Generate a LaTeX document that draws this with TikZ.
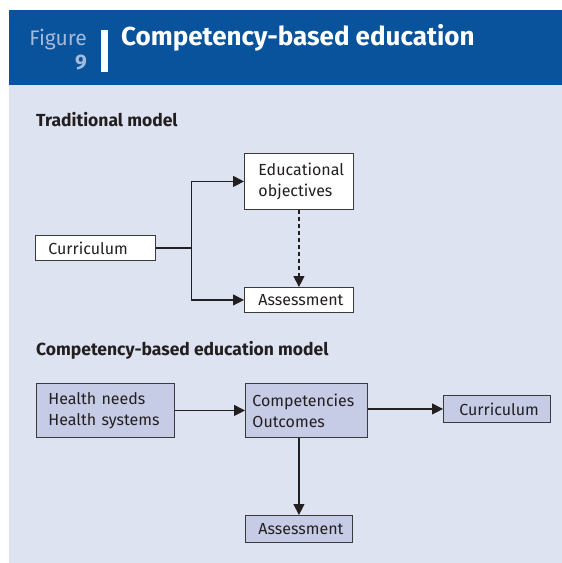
\documentclass[tikz,border=0pt]{standalone}
\usepackage{fontspec}
\setmainfont{Fira Sans}
\usepackage{xcolor}
\usepackage{tikz}
\usetikzlibrary{arrows.meta}
\definecolor{headblue}{HTML}{08539C}
\definecolor{figgray}{HTML}{A6BAD9}
\definecolor{panelbg}{HTML}{DDE3F1}
\definecolor{boxfill}{HTML}{C6CCE6}
\definecolor{inkdark}{HTML}{231F20}
\definecolor{boxline}{HTML}{3A3A3A}
\tikzset{
  every node/.append style={text=inkdark},
  box/.style={draw=boxline,line width=.9pt,anchor=north west,align=left,
    inner xsep=5pt,inner ysep=0pt,font=\fontsize{16}{21}\selectfont},
  indent/.style={execute at begin node={\leftskip=#1pt}},
  cbbox/.style={box,fill=boxfill},
  trbox/.style={box,fill=white},
  link/.style={inkdark,line width=1.1pt},
  head/.style={anchor=base west,inner sep=0pt,font=\fontsize{17.5}{21}\selectfont\bfseries},
}

\begin{document}
\begin{tikzpicture}[>={Triangle[length=11pt,width=11pt]},x=1pt,y=-1pt]
  \useasboundingbox (0,0) rectangle (562,563);
  \fill[panelbg] (9,10) rectangle (562,563);
  \fill[headblue] (9,10) rectangle (562,85);
  \fill[white] (101,30) rectangle (108,72);
  \node[anchor=base east,inner sep=0pt,text=figgray,
    font=\fontsize{21}{24}\selectfont] (figword) at (87,45) {Figure};
  \node[anchor=base east,inner sep=0pt,text=figgray,
    font=\fontsize{21}{24}\selectfont\bfseries] (fignum) at (87,69) {9};
  \node[anchor=base west,inner sep=0pt,text=white,
    font=\fontsize{26}{30}\selectfont\bfseries] (title) at (121,45)
    {Competency-based education};

  % traditional model
  \node[head] (trhead) at (36,126) {Traditional model};
  \node[trbox,text width=110pt,minimum height=25pt,indent=8] (trcur) at (35,235) {Curriculum};
  \node[trbox,text width=99pt,minimum height=56pt,indent=9] (trobj) at (244,153)
    {Educational\\objectives};
  \node[trbox,text width=99pt,minimum height=25pt,indent=9] (trass) at (244,287) {Assessment};
  \coordinate (split) at ([xshift=36pt]trcur.east);
  \draw[link] (trcur.east) -- (split);
  \draw[link,->] (split) |- (trobj.west);
  \draw[link,->] (split) |- (trass.west);
  \draw[link,dash pattern=on 4pt off 3pt,->] (trobj.south) -- (trass.north);

  % competency-based model
  \node[head] (cbhead) at (36,355) {Competency-based education model};
  \node[cbbox,text width=128pt,minimum height=54pt,indent=7] (health) at (36,383)
    {Health needs\\Health systems};
  \node[cbbox,text width=112pt,minimum height=54pt,indent=2] (comp) at (245,383)
    {Competencies\\Outcomes};
  \node[cbbox,text width=97pt,minimum height=27pt,indent=11] (cbcur) at (443,395) {Curriculum};
  \node[cbbox,text width=97pt,minimum height=27pt,indent=8] (cbass) at (245,515) {Assessment};
  \draw[link,->] (health.east) -- (comp.west);
  \draw[link,->] (comp.east |- cbcur.west) -- (cbcur.west);
  \draw[link,->] (comp.south -| cbass.north) -- (cbass.north);
\end{tikzpicture}
\end{document}
